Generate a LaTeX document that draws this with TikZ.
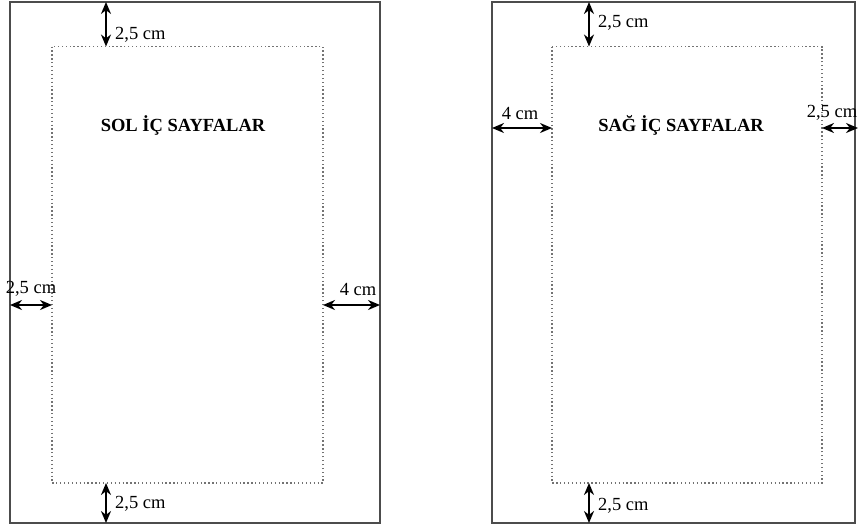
\documentclass[tikz,border=0pt]{standalone}
\usepackage{fontspec}
\setmainfont{Liberation Serif}
\usetikzlibrary{arrows.meta}
\begin{document}
\begin{tikzpicture}[x=1pt,y=-1pt,
  page/.style={draw=black!70,line width=1.4pt},
  margin/.style={draw=black!55,line width=1.3pt,dash pattern=on 1.3pt off 2.6pt},
  dim/.style={line width=2.2pt,{Stealth[length=12pt,width=10pt]}-{Stealth[length=12pt,width=10pt]}},
  lbl/.style={font=\fontsize{18.5}{20}\selectfont,inner sep=0pt},
  ttl/.style={font=\fontsize{18.5}{20}\selectfont\bfseries,inner sep=0pt}]
\useasboundingbox (0,0) rectangle (858,530);
% left page
\coordinate (LO1) at (10,2);
\coordinate (LO2) at (380,523);
\coordinate (LI1) at (52,46.5);
\coordinate (LI2) at (323,483);
\draw[page] (LO1) rectangle (LO2);
\draw[margin] (LI1) rectangle (LI2);
\node[ttl] (t1) at (183,125) {SOL İÇ SAYFALAR};
\coordinate (la1) at (106,2);   \coordinate (la2) at (106,46.5);
\coordinate (lb1) at (106,483); \coordinate (lb2) at (106,523);
\coordinate (lc1) at (10,305);  \coordinate (lc2) at (52,305);
\coordinate (ld1) at (323,305); \coordinate (ld2) at (380,305);
\draw[dim] (la1) -- (la2);
\draw[dim] (lb1) -- (lb2);
\draw[dim] (lc1) -- (lc2);
\draw[dim] (ld1) -- (ld2);
\node[lbl,anchor=west] (l1) at (115,35) {2,5 cm};
\node[lbl,anchor=west] (l2) at (115,504) {2,5 cm};
\node[lbl] (l3) at (31,289) {2,5 cm};
\node[lbl] (l4) at (358,289) {4 cm};
% right page
\coordinate (RO1) at (492,2);
\coordinate (RO2) at (855,523);
\coordinate (RI1) at (552,46.5);
\coordinate (RI2) at (822,483);
\draw[page] (RO1) rectangle (RO2);
\draw[margin] (RI1) rectangle (RI2);
\node[ttl] (t2) at (681,125) {SAĞ İÇ SAYFALAR};
\coordinate (ra1) at (589,2);   \coordinate (ra2) at (589,46.5);
\coordinate (rb1) at (589,483); \coordinate (rb2) at (589,523);
\coordinate (rc1) at (492,128); \coordinate (rc2) at (552,128);
\coordinate (rd1) at (822,128); \coordinate (rd2) at (858,128);
\draw[dim] (ra1) -- (ra2);
\draw[dim] (rb1) -- (rb2);
\draw[dim] (rc1) -- (rc2);
\draw[dim] (rd1) -- (rd2);
\node[lbl,anchor=west] (r1) at (598,23) {2,5 cm};
\node[lbl,anchor=west] (r2) at (598,506) {2,5 cm};
\node[lbl] (r3) at (520,113) {4 cm};
\node[lbl] (r4) at (832,113) {2,5 cm};
\end{tikzpicture}
\end{document}
